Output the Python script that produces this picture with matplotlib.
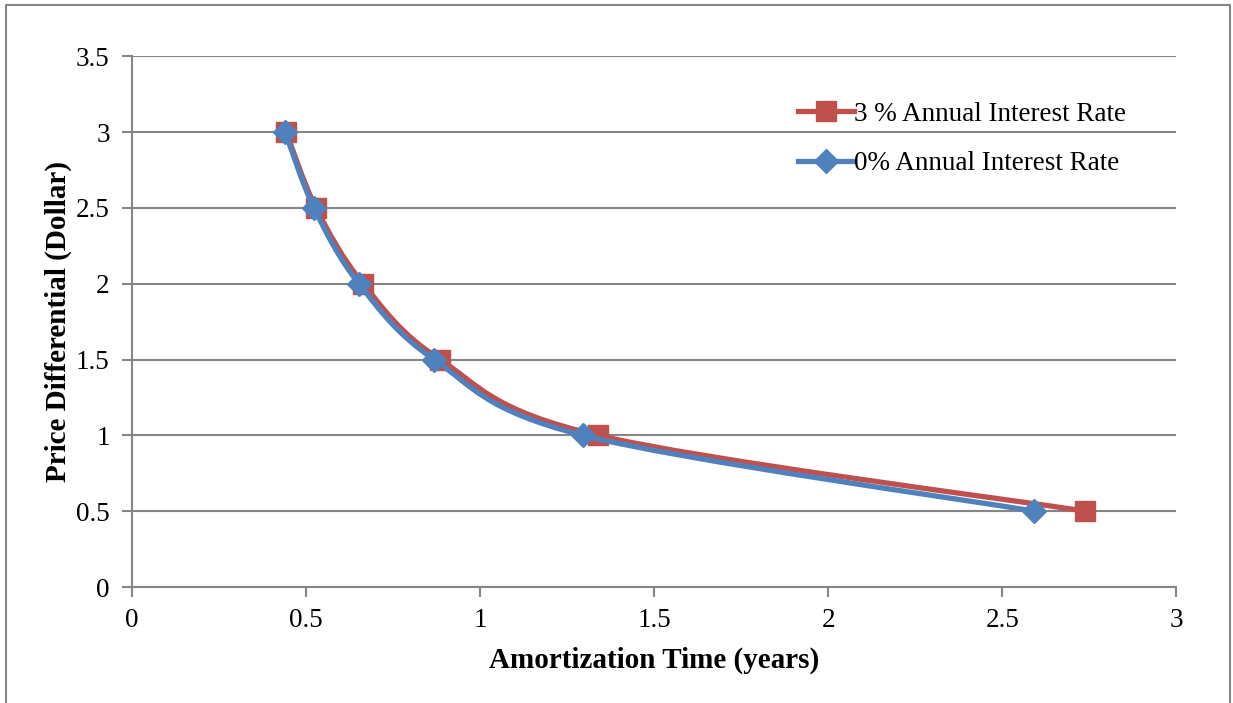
import numpy as np
import matplotlib.pyplot as plt
from matplotlib.path import Path
from matplotlib.patches import PathPatch
from matplotlib.lines import Line2D

# datos
precio = [3, 2.5, 2, 1.5, 1, 0.5]
tiempo_3 = [0.443, 0.529, 0.664, 0.885, 1.339, 2.739]   # 3 % anual
tiempo_0 = [0.440, 0.523, 0.652, 0.868, 1.296, 2.592]   # 0 % anual

rojo = '#C0504D'
azul = '#4F81BD'
gris = '#868686'

plt.rcParams['font.family'] = ['Liberation Serif', 'DejaVu Serif']


def curva_suave(x, y):
    # linea suavizada tipo Excel (bezier con puntos vecinos)
    p = np.column_stack([x, y])
    verts = [p[0]]
    codes = [Path.MOVETO]
    n = len(p)
    for i in range(n - 1):
        p0 = p[i - 1] if i > 0 else p[i]
        p3 = p[i + 2] if i + 2 < n else p[i + 1]
        c1 = p[i] + (p[i + 1] - p0) / 6
        c2 = p[i + 1] - (p3 - p[i]) / 6
        verts += [c1, c2, p[i + 1]]
        codes += [Path.CURVE4] * 3
    return Path(verts, codes)


fig = plt.figure(figsize=(12.33, 7.03), dpi=100)
ax = fig.add_axes([0.107, 0.165, 0.847, 0.755])

ax.add_patch(PathPatch(curva_suave(tiempo_3, precio), fill=False, ec=rojo, lw=3.8, zorder=3))
ax.plot(tiempo_3, precio, ls='none', marker='s', ms=15, color=rojo, zorder=4)
ax.add_patch(PathPatch(curva_suave(tiempo_0, precio), fill=False, ec=azul, lw=3.8, zorder=5))
ax.plot(tiempo_0, precio, ls='none', marker='D', ms=12, color=azul, zorder=6)

ax.set_xlim(0, 3)
ax.set_ylim(0, 3.5)
ax.set_xticks(np.arange(0, 3.01, 0.5))
ax.set_yticks(np.arange(0, 3.51, 0.5))
ax.set_xticklabels(['0', '0.5', '1', '1.5', '2', '2.5', '3'])
ax.set_yticklabels(['0', '0.5', '1', '1.5', '2', '2.5', '3', '3.5'])
ax.grid(axis='y', color=gris, lw=1.5)
ax.set_axisbelow(True)
for s in ['top', 'right']:
    ax.spines[s].set_visible(False)
for s in ['left', 'bottom']:
    ax.spines[s].set_color(gris)
    ax.spines[s].set_linewidth(1.5)
ax.tick_params(colors=gris, labelcolor='black', labelsize=19.5, length=7, width=1.5)
ax.tick_params(axis='y', pad=9)
ax.tick_params(axis='x', pad=8)

ax.set_xlabel('Amortization Time (years)', fontsize=21, fontweight='bold', labelpad=10)
ax.set_ylabel('Price Differential (Dollar)', fontsize=21, fontweight='bold', labelpad=3)

handles = [Line2D([], [], color=rojo, lw=3.8, marker='s', ms=15),
           Line2D([], [], color=azul, lw=3.8, marker='D', ms=12)]
ax.legend(handles, ['3 % Annual Interest Rate', '0% Annual Interest Rate'],
          loc='upper left', bbox_to_anchor=(0.614, 0.96), frameon=False,
          fontsize=19.5, handlelength=2.1, handletextpad=0.0, labelspacing=0.9)

# borde del grafico
fig.add_artist(Line2D([0.005, 0.005, 0.9976, 0.9976], [0, 0.993, 0.993, 0],
                      color=gris, lw=1.5, transform=fig.transFigure))

plt.savefig('out.png', dpi=100)
